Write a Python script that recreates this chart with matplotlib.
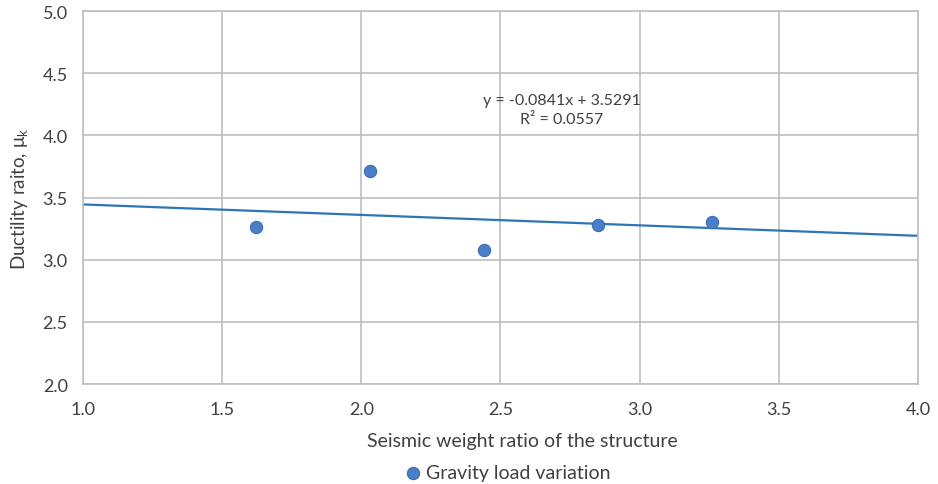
import matplotlib
matplotlib.use("Agg")
import matplotlib.pyplot as plt
import numpy as np

# Ductility ratio against seismic weight ratio (gravity load variation cases)
weight_ratio = [1.62, 2.03, 2.44, 2.85, 3.26]
ductility = [3.26, 3.71, 3.08, 3.28, 3.30]

# Linear trendline as reported
slope, intercept = -0.0841, 3.5291
r_squared = 0.0557
trend_x = [1.0, 4.0]

plt.rcParams["font.family"] = ["Lato", "DejaVu Sans"]

fig = plt.figure(figsize=(9.38, 4.85), dpi=100)
ax = fig.add_axes([0.0885, 0.206, 0.89, 0.769])

grid_c = "#bfbfbf"
text_c = "#404040"
ax.set_xlim(1.0, 4.0)
ax.set_ylim(2.0, 5.0)
ax.set_xticks(np.arange(1.0, 4.01, 0.5))
ax.set_yticks(np.arange(2.0, 5.01, 0.5))
ax.xaxis.set_major_formatter(matplotlib.ticker.FormatStrFormatter("%.1f"))
ax.yaxis.set_major_formatter(matplotlib.ticker.FormatStrFormatter("%.1f"))
ax.grid(True, color=grid_c, linewidth=1.2)
ax.set_axisbelow(True)
for s in ax.spines.values():
    s.set_color(grid_c)
    s.set_linewidth(1.2)
ax.tick_params(length=0, labelsize=13, colors=text_c)
ax.tick_params(axis="x", pad=12)
ax.tick_params(axis="y", pad=11)

tx = np.array(trend_x)
ax.plot(tx, slope * tx + intercept, color="#2e75b6", linewidth=1.6, zorder=2)
ax.scatter(weight_ratio, ductility, s=78, color="#4a7ec8", edgecolor="#3d6db5",
           linewidth=0.8, zorder=3, label="Gravity load variation")

ax.text(2.72, 4.21, f"y = {slope:.4f}x + {intercept:.4f}\nR² = {r_squared:.4f}",
        ha="center", va="center", fontsize=11.5, color=text_c, linespacing=1.45,
        multialignment="center")

ax.set_xlabel("Seismic weight ratio of the structure", fontsize=14, color=text_c)
ax.xaxis.set_label_coords(0.526, -0.128)
ax.set_ylabel("Ductility raito, $\\mathregular{\\mu_k}$", fontsize=13.5, color=text_c)
ax.yaxis.set_label_coords(-0.063, 0.5)

ax.legend(loc="center", bbox_to_anchor=(508 / 938, 1 - 474 / 485),
          bbox_transform=fig.transFigure, frameon=False,
          fontsize=14, handlelength=0.8, handletextpad=0.3, labelcolor=text_c)

fig.savefig("out.png", dpi=100)
